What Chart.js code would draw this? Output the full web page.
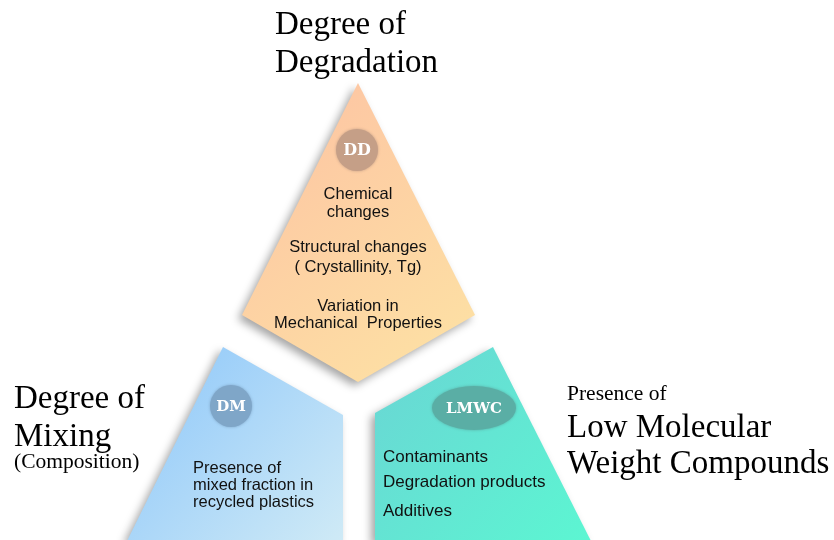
<!DOCTYPE html>
<html><head><meta charset="utf-8">
<script src="https://cdn.jsdelivr.net/npm/chart.js@4.4.1/dist/chart.umd.min.js"></script>
<style>html,body{margin:0;padding:0;background:#fff}#wrap{width:834px;height:540px;position:relative}</style>
</head><body><div id="wrap"><canvas id="c"></canvas></div>
<script>
// ---- data ----
const categories = ['DD', 'DM', 'LMWC'];
const ddShape = [{x:358,y:83},{x:475,y:315},{x:358,y:382},{x:242,y:315},{x:358,y:83}];
const dmShape = [{x:223,y:347},{x:343,y:415},{x:343,y:541},{x:127,y:541},{x:223,y:347}];
const lmwcShape = [{x:493,y:347},{x:591,y:541},{x:375,y:541},{x:375,y:413},{x:493,y:347}];
const ddItems = [['Chemical','changes'],['Structural changes','( Crystallinity, Tg)'],['Variation in','Mechanical  Properties']];
const dmItems = ['Presence of','mixed fraction in','recycled plastics'];
const lmwcItems = ['Contaminants','Degradation products','Additives'];

// ---- layout / style ----
const grads = [['#fdc2a3','#fde3a4'],['#8cc6fa','#cfeaf6'],['#6ad5d4','#5cf6d2']];
const SANS = '"Liberation Sans", Arial, sans-serif';
const SERIF = '"Liberation Serif", "DejaVu Serif", serif';

const shapePlugin = {
  id: 'shapes',
  beforeDatasetsDraw(chart) {
    const ctx = chart.ctx;
    chart.data.datasets.forEach((ds, i) => {
      const pts = chart.getDatasetMeta(i).data;
      let minX=1e9,minY=1e9,maxX=-1e9,maxY=-1e9;
      pts.forEach(p=>{minX=Math.min(minX,p.x);maxX=Math.max(maxX,p.x);minY=Math.min(minY,p.y);maxY=Math.max(maxY,p.y);});
      const g = ctx.createLinearGradient(minX, minY, maxX, maxY);
      g.addColorStop(0, grads[i][0]); g.addColorStop(1, grads[i][1]);
      ctx.save();
      ctx.shadowColor = 'rgba(0,0,0,0.35)';
      ctx.shadowBlur = 8; ctx.shadowOffsetX = -4; ctx.shadowOffsetY = 4;
      ctx.beginPath();
      pts.forEach((p, k) => k ? ctx.lineTo(p.x, p.y) : ctx.moveTo(p.x, p.y));
      ctx.closePath();
      ctx.fillStyle = g; ctx.fill();
      ctx.restore();
    });
  },
  afterDatasetsDraw(chart) {
    const ctx = chart.ctx, X = chart.scales.x, Y = chart.scales.y;
    const px = v => X.getPixelForValue(v), py = v => Y.getPixelForValue(v);
    ctx.save();
    function badge(cx, cy, rx, ry, col, txt, fs) {
      ctx.save();
      ctx.shadowColor = col; ctx.shadowBlur = 3;
      ctx.fillStyle = col;
      ctx.beginPath(); ctx.ellipse(px(cx), py(cy), rx, ry, 0, 0, Math.PI*2); ctx.fill();
      ctx.restore();
      ctx.fillStyle = '#fff';
      ctx.font = 'bold ' + fs + 'px "DejaVu Serif", serif';
      ctx.textAlign = 'center'; ctx.textBaseline = 'middle';
      ctx.fillText(txt, px(cx), py(cy) + 1);
    }
    badge(357, 150, 21, 21, '#c59f87', categories[0], 16);
    badge(231, 406, 21, 21, '#7fa6c8', categories[1], 15);
    badge(474, 408, 42, 22, '#5aaea5', categories[2], 15);

    ctx.fillStyle = '#111';
    ctx.textBaseline = 'alphabetic';
    ctx.font = '16.5px ' + SANS;
    ctx.textAlign = 'center';
    const ddBase = [[199,217],[252,272],[311,328]];
    ddItems.forEach((lines, i) => lines.forEach((t, j) => ctx.fillText(t, px(358), py(ddBase[i][j]))));
    ctx.textAlign = 'left';
    const dmBase = [473,490,507];
    dmItems.forEach((t, i) => ctx.fillText(t, px(193), py(dmBase[i])));
    ctx.font = '17px ' + SANS;
    const lmBase = [462,487,516];
    lmwcItems.forEach((t, i) => ctx.fillText(t, px(383), py(lmBase[i])));

    ctx.fillStyle = '#000';
    ctx.font = '33px ' + SERIF;
    ctx.fillText('Degree of', px(275), py(34));
    ctx.fillText('Degradation', px(275), py(72));
    ctx.fillText('Degree of', px(14), py(408));
    ctx.fillText('Mixing', px(14), py(446));
    ctx.fillText('Low Molecular', px(567), py(437));
    ctx.fillText('Weight Compounds', px(567), py(473));
    ctx.font = '21.5px ' + SERIF;
    ctx.fillText('(Composition)', px(14), py(468));
    ctx.fillText('Presence of', px(567), py(400));
    ctx.restore();
  }
};

new Chart(document.getElementById('c'), {
  type: 'scatter',
  data: {
    datasets: [
      {label: categories[0], data: ddShape, pointRadius: 0, showLine: false},
      {label: categories[1], data: dmShape, pointRadius: 0, showLine: false},
      {label: categories[2], data: lmwcShape, pointRadius: 0, showLine: false}
    ]
  },
  options: {
    responsive: true, maintainAspectRatio: false, animation: false,
    layout: {padding: 0},
    scales: {
      x: {type: 'linear', min: 0, max: 834, display: false},
      y: {type: 'linear', min: 0, max: 540, reverse: true, display: false}
    },
    plugins: {legend: {display: false}, tooltip: {enabled: false}}
  },
  plugins: [shapePlugin]
});
</script></body></html>
